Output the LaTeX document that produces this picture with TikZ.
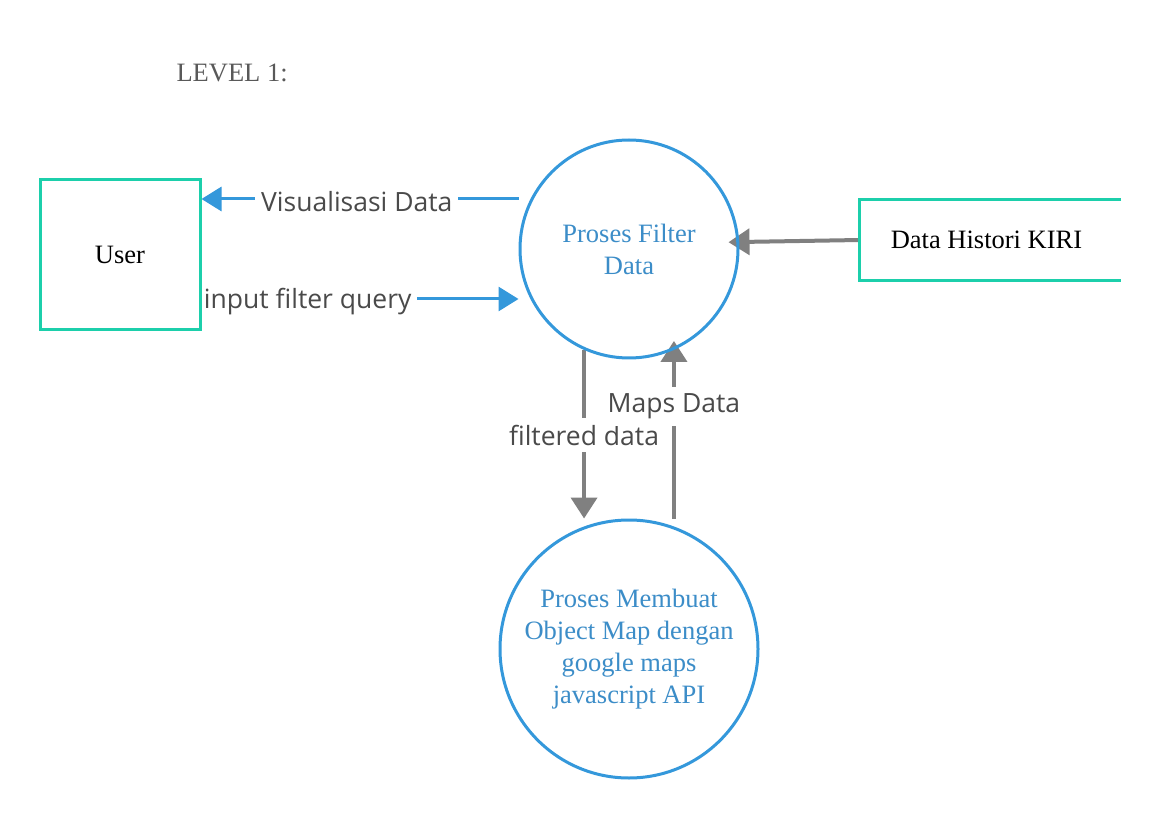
\documentclass[tikz,border=0pt]{standalone}
\usepackage{fontspec}
\setmainfont{Liberation Serif}
\newfontfamily\lblfont{Open Sans}
\usetikzlibrary{arrows.meta}
\definecolor{tealline}{HTML}{1CCFAB}
\definecolor{blueline}{HTML}{3498DB}
\definecolor{bluetext}{HTML}{3C8DC8}
\definecolor{grayline}{HTML}{808080}
\definecolor{lbltext}{HTML}{4A4A4A}
\definecolor{titletext}{HTML}{595959}
\pgfdeclarelayer{back}
\pgfsetlayers{back,main}
\tikzset{
  bigtext/.style={font=\fontsize{26.5}{32}\selectfont},
  entity/.style={draw=tealline, line width=3pt, bigtext, text=black, inner sep=0pt},
  process/.style={circle, draw=blueline, line width=3pt, bigtext, text=bluetext, align=center, inner sep=0pt},
  blueflow/.style={draw=blueline, line width=3pt, -{Triangle[length=20pt,width=24pt]}},
  grayflow/.style={draw=grayline, line width=4pt, -{Triangle[length=21pt,width=26pt]}},
  flowlabel/.style={fill=white, text=lbltext, font=\lblfont\fontsize{26.5}{32}\selectfont, inner xsep=6pt, inner ysep=7pt}
}
\begin{document}
\begin{tikzpicture}[x=1pt,y=-1pt]
\begin{pgfonlayer}{back}
\useasboundingbox[fill=white] (0,0) rectangle (1160,818);
\end{pgfonlayer}
\node[anchor=west, bigtext, text=titletext] (title) at (173,73) {LEVEL 1:};
\node[entity, minimum width=160pt, minimum height=150pt] (user) at (120,255) {User};
\node[bigtext, text=black, minimum width=261pt, minimum height=80pt, inner sep=0pt] (store) at (990.5,240) {\hspace*{-8pt}Data Histori KIRI};
\draw[tealline, line width=3pt] (store.north east) -- (store.north west) -- (store.south west) -- (store.south east);
\node[process, minimum size=218pt] (p1) at (629,249) {Proses Filter\\Data};
\node[process, minimum size=258pt] (p2) at (629,649) {Proses Membuat\\Object Map dengan\\google maps\\javascript API};
% flows
\begin{pgfonlayer}{back}
\draw[blueflow] ([yshift=50pt]p1.west) -- ([yshift=50pt]p1.west -| user.east)
  node[flowlabel, pos=0.51, yshift=-3pt] (lv) {Visualisasi Data};
\draw[blueflow] ([yshift=-50pt]p1.west -| user.east) -- ([yshift=-50pt]p1.west)
  node[flowlabel, pos=0.335, yshift=-3pt] (li) {input filter query};
\draw[grayflow, shorten >=-11pt] (store.west) -- ([yshift=7pt]p1.east);
\draw[grayflow] (p1.246) -- (p1.246 |- p2.north)
  node[flowlabel, pos=0.505] (lf) {filtered data};
\draw[grayflow, shorten >=-9pt] (p2.north -| p1.294) -- (p1.294)
  node[flowlabel, pos=0.683, yshift=-3pt] (lm) {Maps Data};
\end{pgfonlayer}
\end{tikzpicture}
\end{document}
